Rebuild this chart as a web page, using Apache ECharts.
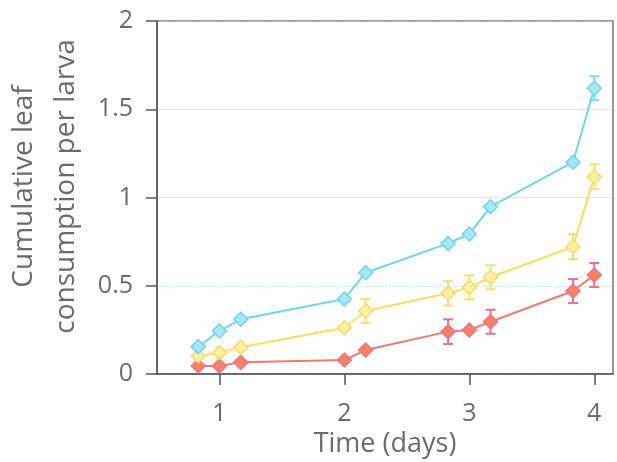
<!DOCTYPE html>
<html>
<head>
<meta charset="utf-8">
<script src="https://cdn.jsdelivr.net/npm/echarts@6/dist/echarts.min.js"></script>
<style>html,body{margin:0;padding:0;background:#fff}#c{width:617px;height:462px}</style>
</head>
<body>
<div id="c"></div>
<script>
var days = [0.83, 1.0, 1.17, 2.0, 2.17, 2.83, 3.0, 3.17, 3.83, 4.0];
var cyanVals = [0.155, 0.244, 0.31, 0.425, 0.574, 0.74, 0.793, 0.948, 1.2, 1.619];
var yellowVals = [0.102, 0.121, 0.151, 0.262, 0.357, 0.457, 0.491, 0.548, 0.721, 1.118];
var redVals = [0.045, 0.046, 0.066, 0.079, 0.136, 0.24, 0.249, 0.296, 0.47, 0.561];
var cyanErr = [0, 0, 0, 0, 0, 0, 0, 0, 0, 0.068];
var yellowErr = [0, 0, 0, 0, 0.067, 0.069, 0.068, 0.068, 0.071, 0.07];
var redErr = [0, 0, 0, 0, 0, 0.07, 0, 0.068, 0.068, 0.068];
var xTicks = [1, 2, 3, 4];

var FONT = 'Open Sans';
var TXT = '#6b6b6b';

function pts(vals) { return days.map(function (d, i) { return [d, vals[i]]; }); }
function errPts(vals, errs) { return days.map(function (d, i) { return [d, vals[i], errs[i]]; }); }

function errSeries(vals, errs, color, z) {
  return {
    type: 'custom',
    z: z,
    silent: true,
    data: errPts(vals, errs),
    renderItem: function (params, api) {
      var e = api.value(2);
      if (!e) return null;
      var x = api.value(0), y = api.value(1);
      var top = api.coord([x, y + e]);
      var bot = api.coord([x, y - e]);
      var hw = 5;
      var st = { stroke: color, lineWidth: 2 };
      return {
        type: 'group',
        children: [
          { type: 'line', shape: { x1: top[0], y1: top[1], x2: bot[0], y2: bot[1] }, style: st },
          { type: 'line', shape: { x1: top[0] - hw, y1: top[1], x2: top[0] + hw, y2: top[1] }, style: st },
          { type: 'line', shape: { x1: bot[0] - hw, y1: bot[1], x2: bot[0] + hw, y2: bot[1] }, style: st }
        ]
      };
    }
  };
}

function lineSeries(vals, lineColor, fill, border, z) {
  return {
    type: 'line',
    z: z,
    data: pts(vals),
    symbol: 'diamond',
    symbolSize: 14,
    lineStyle: { color: lineColor, width: 2 },
    itemStyle: { color: fill, borderColor: border, borderWidth: 1.5 },
    emphasis: { disabled: true },
    animation: false
  };
}

var chart = echarts.init(document.getElementById('c'), null, { renderer: 'canvas' });
chart.setOption({
  animation: false,
  grid: { left: 157, right: 4, top: 21, bottom: 88, outerBoundsMode: 'none', containLabel: false, show: true, borderColor: '#7a7a7a', borderWidth: 1.5, backgroundColor: 'transparent' },
  xAxis: {
    type: 'value',
    min: 0.5,
    max: 4.15,
    name: 'Time (days)',
    nameLocation: 'middle',
    nameGap: 57,
    nameTextStyle: { fontFamily: FONT, fontSize: 27, color: TXT },
    axisLine: { show: true, lineStyle: { color: '#555', width: 1.5 } },
    axisTick: { show: true, inside: false, length: 11, customValues: xTicks, lineStyle: { color: '#555', width: 1.5 } },
    axisLabel: { customValues: xTicks, fontFamily: FONT, fontSize: 25, color: TXT, margin: 27 },
    splitLine: { show: false }
  },
  yAxis: {
    type: 'value',
    min: 0,
    max: 2,
    interval: 0.5,
    name: 'Cumulative leaf\nconsumption per larva',
    nameLocation: 'middle',
    nameGap: 64,
    nameTextStyle: { fontFamily: FONT, fontSize: 28, color: TXT, lineHeight: 42, padding: [0, 0, 0, 22] },
    axisLine: { show: true, lineStyle: { color: '#555', width: 1.5 } },
    axisTick: { show: true, inside: false, length: 11, lineStyle: { color: '#555', width: 1.5 } },
    axisLabel: { fontFamily: FONT, fontSize: 25, color: TXT, margin: 24 },
    splitLine: { show: true, lineStyle: { color: '#a9e2ee', width: 1.2, type: 'dotted' } }
  },
  series: [
    errSeries(cyanVals, cyanErr, '#7ddbea', 2),
    errSeries(yellowVals, yellowErr, '#f6df72', 2),
    errSeries(redVals, redErr, '#ef6f8c', 2),
    lineSeries(cyanVals, '#6fd6ea', '#a8e6f2', '#6fd6ea', 5),
    lineSeries(yellowVals, '#f7e05a', '#faf0a8', '#f5dc62', 4),
    lineSeries(redVals, '#f2786c', '#f28466', '#f07090', 3)
  ]
});
</script>
</body>
</html>
